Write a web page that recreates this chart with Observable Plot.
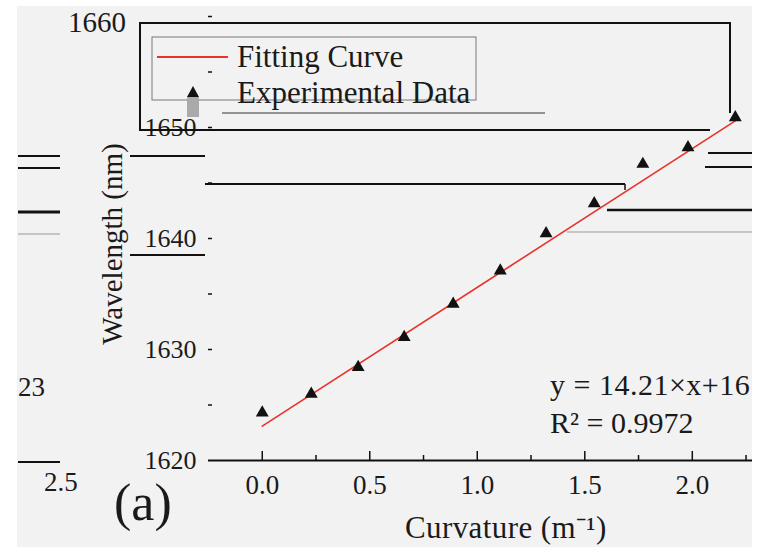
<!DOCTYPE html>
<html>
<head>
<meta charset="utf-8">
<script src="https://cdn.jsdelivr.net/npm/d3@7"></script>
<script src="https://cdn.jsdelivr.net/npm/@observablehq/plot@0.6"></script>
<style>
  html, body { margin: 0; padding: 0; background: #ffffff; }
  #wrap { position: relative; width: 762px; height: 547px; background: #ffffff; overflow: hidden;
          font-family: "Liberation Serif", "Times New Roman", serif; color: #1a1a1a; }
  #panel { position: absolute; left: 17px; top: 6px; width: 735px; height: 541px; background: #f2f2f2; }
  #clip { position: absolute; left: 0; top: 0; width: 752px; height: 547px; overflow: hidden; }
  #clip svg.plot { position: absolute; left: 0; top: 0; max-width: none !important; width: 762px; height: 547px; }
  .t { position: absolute; white-space: nowrap; line-height: 1; }
  #deco { position: absolute; left: 0; top: 0; pointer-events: none; }
</style>
</head>
<body>
<div id="wrap"><div id="panel"></div><div id="clip"></div></div>
<script>
// ---- data ----
const curvature = [0.0, 0.228, 0.446, 0.66, 0.888, 1.107, 1.32, 1.544, 1.77, 1.98, 2.2];
const wavelength = [1624.3, 1626.0, 1628.4, 1631.1, 1634.1, 1637.1, 1640.45, 1643.15, 1646.7, 1648.2, 1650.9];
const fitX = [0.0, 2.2];
const fitY = [1623.1, 1650.6];
const xTickMajor = [0.0, 0.5, 1.0, 1.5, 2.0];
const xTickMinor = [0.25, 0.75, 1.25, 1.75, 2.25];
const yTickLabels = [1620, 1630, 1640, 1650];
const yTickMarks = [1625, 1630, 1635, 1640, 1645, 1650, 1655, 1660];
const xLabel = "Curvature (m⁻¹)";
const yLabel = "Wavelength (nm)";
const fitLegend = "Fitting Curve";
const dataLegend = "Experimental Data";
const equation = "y = 14.21×x+16";
const rSquared = "R² = 0.9972";
const panelTag = "(a)";
const topLabel = "1660";

const points = curvature.map((c, i) => ({x: c, y: wavelength[i]}));
const fit = fitX.map((c, i) => ({x: c, y: fitY[i]}));

const pxPerY = 444 / 40;
const pxPerX = 544 / 2.53;

const chart = Plot.plot({
  width: 762,
  height: 547,
  marginLeft: 208,
  marginRight: 10,
  marginTop: 16,
  marginBottom: 87,
  style: { background: "transparent", fontFamily: "Liberation Serif, Times New Roman, serif", fontSize: "27px", color: "#1a1a1a", overflow: "visible", maxWidth: "none" },
  x: { domain: [-0.25, 2.28] },
  y: { domain: [1620, 1660] },
  marks: [
    Plot.axisX({ ticks: xTickMajor, tickSize: 0, tickPadding: 14, tickFormat: d3.format(".1f"), label: null, fill: "#1a1a1a" }),
    Plot.axisY({ ticks: yTickLabels, tickSize: 0, tickPadding: 12, tickFormat: d => String(d), label: null, fill: "#1a1a1a", fontSize: 26 }),
    Plot.ruleY([1620], { stroke: "#111", strokeWidth: 2 }),
    Plot.ruleX(xTickMajor, { x: d => d, y1: 1620, y2: 1620 + 9 / pxPerY, stroke: "#111", strokeWidth: 1.5 }),
    Plot.ruleX(xTickMinor, { x: d => d, y1: 1620, y2: 1620 + 5 / pxPerY, stroke: "#111", strokeWidth: 1.5 }),
    Plot.ruleY(yTickMarks, { y: d => d, x1: -0.25, x2: -0.25 + 4 / pxPerX, stroke: "#111", strokeWidth: 1.5 }),
    Plot.line(fit, { x: "x", y: "y", stroke: "#e8322b", strokeWidth: 1.6 }),
    Plot.dot(points, { x: "x", y: "y", symbol: "triangle", r: 4.8, fill: "#111", stroke: "none" })
  ]
});
const clip = document.getElementById("clip");
clip.appendChild(chart);

// ---- decorative frame / legend overlay ----
const NS = "http://www.w3.org/2000/svg";
const deco = document.createElementNS(NS, "svg");
deco.setAttribute("id", "deco");
deco.setAttribute("width", 752);
deco.setAttribute("height", 547);
function ln(x1, y1, x2, y2, stroke, w) {
  const l = document.createElementNS(NS, "line");
  l.setAttribute("x1", x1); l.setAttribute("y1", y1); l.setAttribute("x2", x2); l.setAttribute("y2", y2);
  l.setAttribute("stroke", stroke); l.setAttribute("stroke-width", w);
  deco.appendChild(l);
}
function rect(x, y, w, h, fill, stroke, sw) {
  const r = document.createElementNS(NS, "rect");
  r.setAttribute("x", x); r.setAttribute("y", y); r.setAttribute("width", w); r.setAttribute("height", h);
  r.setAttribute("fill", fill); r.setAttribute("stroke", stroke); r.setAttribute("stroke-width", sw);
  deco.appendChild(r);
}
// outer box
ln(140, 23, 731, 23, "#111", 2);
ln(140, 22, 140, 131, "#111", 2);
ln(730, 22, 730, 113, "#111", 2);
ln(140, 130, 710, 130, "#111", 2);
// legend box
rect(152, 37, 324, 63, "none", "#777", 1);
// legend red line
ln(157, 57, 228, 57, "#e8322b", 2);
// legend triangle + gray bar
rect(187, 97, 12, 20, "#aaa", "none", 0);
const tri = document.createElementNS(NS, "path");
tri.setAttribute("d", "M193,86 L199,97 L187,97 Z");
tri.setAttribute("fill", "#111");
deco.appendChild(tri);
ln(222, 113, 545, 113, "#333", 1);
// stray rules
ln(130, 156, 205, 156, "#111", 2);
ln(130, 255, 205, 255, "#111", 2);
ln(205, 184, 625, 184, "#111", 2);
ln(625, 184, 625, 190, "#111", 1.5);
ln(708, 153, 752, 153, "#111", 2);
ln(705, 167, 752, 167, "#111", 2);
ln(607, 210, 752, 210, "#111", 2.5);
ln(567, 232, 752, 232, "#999", 1);
ln(18, 156, 60, 156, "#111", 2);
ln(18, 168, 60, 168, "#111", 2);
ln(18, 212, 60, 212, "#111", 3);
ln(18, 234, 60, 234, "#999", 1);
ln(18, 462, 60, 462, "#111", 2);
clip.appendChild(deco);

function addText(str, left, top, size, extra) {
  const d = document.createElement("div");
  d.className = "t";
  d.textContent = str;
  d.style.left = left + "px";
  d.style.top = top + "px";
  d.style.fontSize = size + "px";
  if (extra) Object.assign(d.style, extra);
  clip.appendChild(d);
  return d;
}
addText(fitLegend, 237, 41, 31);
addText(dataLegend, 237, 77, 31);
addText(equation, 550, 370, 30, { letterSpacing: "0.5px" });
addText(rSquared, 550, 408, 30);
addText(panelTag, 114, 485, 52, { lineHeight: "0.7" });
addText(xLabel, 405, 512, 31, { letterSpacing: "0.4px" });
addText(yLabel, 112, 244, 29, { transform: "translate(-50%, -50%) rotate(-90deg)", transformOrigin: "center" });
addText(topLabel, 68, 8, 29);
addText("23", 18, 374, 27);
addText("2.5", 44, 469, 27);
</script>
</body>
</html>
